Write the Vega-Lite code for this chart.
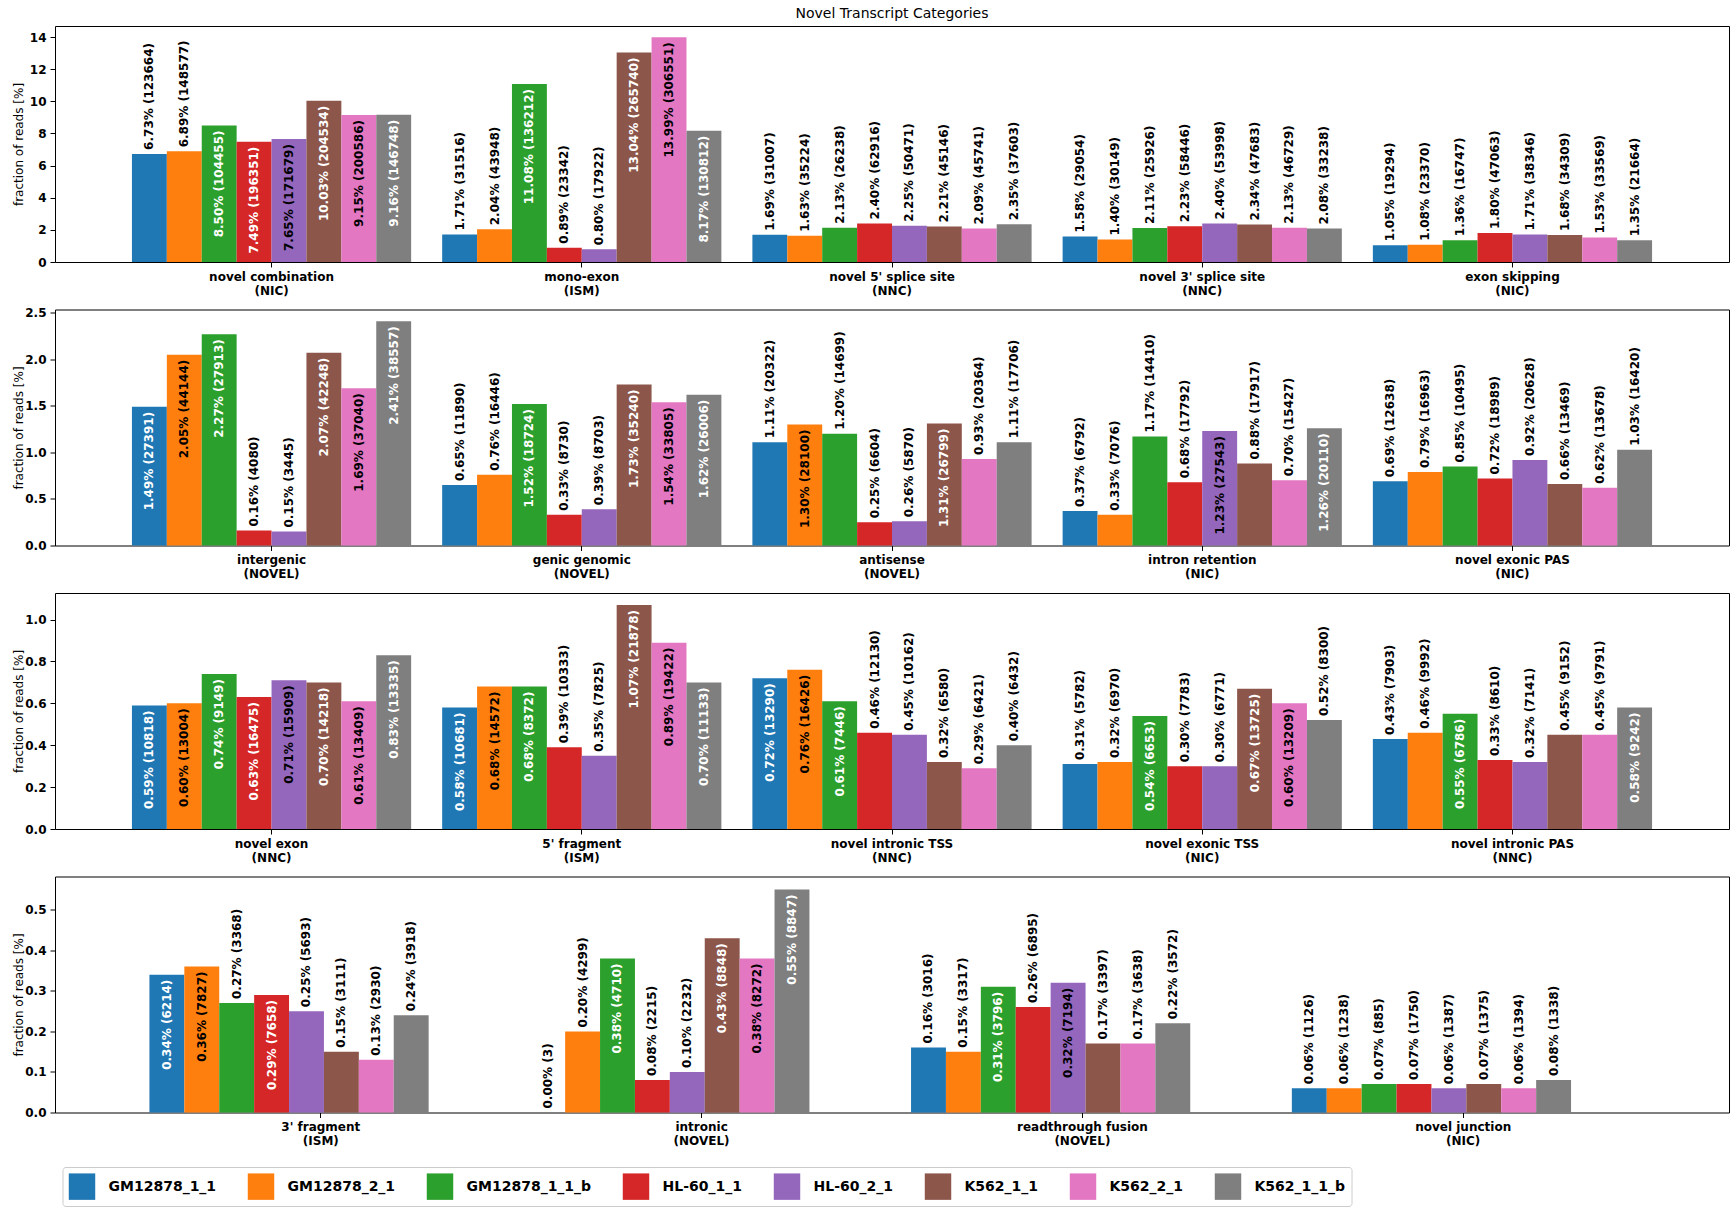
{
"$schema": "https://vega.github.io/schema/vega-lite/v6.json",
"padding": {"left": 11, "top": 6, "right": 6, "bottom": 4},
"title": {"text": "Novel Transcript Categories", "fontSize": 14, "fontWeight": "normal", "anchor": "middle", "frame": "group", "offset": 5, "color": "black"},
"data": {"values": [
{"row":1,"cat":"novel combination\n(NIC)","sample":"GM12878_1_1","pct":6.73,"reads":123664},
{"row":1,"cat":"novel combination\n(NIC)","sample":"GM12878_2_1","pct":6.89,"reads":148577},
{"row":1,"cat":"novel combination\n(NIC)","sample":"GM12878_1_1_b","pct":8.50,"reads":104455},
{"row":1,"cat":"novel combination\n(NIC)","sample":"HL-60_1_1","pct":7.49,"reads":196351},
{"row":1,"cat":"novel combination\n(NIC)","sample":"HL-60_2_1","pct":7.65,"reads":171679},
{"row":1,"cat":"novel combination\n(NIC)","sample":"K562_1_1","pct":10.03,"reads":204534},
{"row":1,"cat":"novel combination\n(NIC)","sample":"K562_2_1","pct":9.15,"reads":200586},
{"row":1,"cat":"novel combination\n(NIC)","sample":"K562_1_1_b","pct":9.16,"reads":146748},
{"row":1,"cat":"mono-exon\n(ISM)","sample":"GM12878_1_1","pct":1.71,"reads":31516},
{"row":1,"cat":"mono-exon\n(ISM)","sample":"GM12878_2_1","pct":2.04,"reads":43948},
{"row":1,"cat":"mono-exon\n(ISM)","sample":"GM12878_1_1_b","pct":11.08,"reads":136212},
{"row":1,"cat":"mono-exon\n(ISM)","sample":"HL-60_1_1","pct":0.89,"reads":23342},
{"row":1,"cat":"mono-exon\n(ISM)","sample":"HL-60_2_1","pct":0.80,"reads":17922},
{"row":1,"cat":"mono-exon\n(ISM)","sample":"K562_1_1","pct":13.04,"reads":265740},
{"row":1,"cat":"mono-exon\n(ISM)","sample":"K562_2_1","pct":13.99,"reads":306551},
{"row":1,"cat":"mono-exon\n(ISM)","sample":"K562_1_1_b","pct":8.17,"reads":130812},
{"row":1,"cat":"novel 5' splice site\n(NNC)","sample":"GM12878_1_1","pct":1.69,"reads":31007},
{"row":1,"cat":"novel 5' splice site\n(NNC)","sample":"GM12878_2_1","pct":1.63,"reads":35224},
{"row":1,"cat":"novel 5' splice site\n(NNC)","sample":"GM12878_1_1_b","pct":2.13,"reads":26238},
{"row":1,"cat":"novel 5' splice site\n(NNC)","sample":"HL-60_1_1","pct":2.40,"reads":62916},
{"row":1,"cat":"novel 5' splice site\n(NNC)","sample":"HL-60_2_1","pct":2.25,"reads":50471},
{"row":1,"cat":"novel 5' splice site\n(NNC)","sample":"K562_1_1","pct":2.21,"reads":45146},
{"row":1,"cat":"novel 5' splice site\n(NNC)","sample":"K562_2_1","pct":2.09,"reads":45741},
{"row":1,"cat":"novel 5' splice site\n(NNC)","sample":"K562_1_1_b","pct":2.35,"reads":37603},
{"row":1,"cat":"novel 3' splice site\n(NNC)","sample":"GM12878_1_1","pct":1.58,"reads":29054},
{"row":1,"cat":"novel 3' splice site\n(NNC)","sample":"GM12878_2_1","pct":1.40,"reads":30149},
{"row":1,"cat":"novel 3' splice site\n(NNC)","sample":"GM12878_1_1_b","pct":2.11,"reads":25926},
{"row":1,"cat":"novel 3' splice site\n(NNC)","sample":"HL-60_1_1","pct":2.23,"reads":58446},
{"row":1,"cat":"novel 3' splice site\n(NNC)","sample":"HL-60_2_1","pct":2.40,"reads":53998},
{"row":1,"cat":"novel 3' splice site\n(NNC)","sample":"K562_1_1","pct":2.34,"reads":47683},
{"row":1,"cat":"novel 3' splice site\n(NNC)","sample":"K562_2_1","pct":2.13,"reads":46729},
{"row":1,"cat":"novel 3' splice site\n(NNC)","sample":"K562_1_1_b","pct":2.08,"reads":33238},
{"row":1,"cat":"exon skipping\n(NIC)","sample":"GM12878_1_1","pct":1.05,"reads":19294},
{"row":1,"cat":"exon skipping\n(NIC)","sample":"GM12878_2_1","pct":1.08,"reads":23370},
{"row":1,"cat":"exon skipping\n(NIC)","sample":"GM12878_1_1_b","pct":1.36,"reads":16747},
{"row":1,"cat":"exon skipping\n(NIC)","sample":"HL-60_1_1","pct":1.80,"reads":47063},
{"row":1,"cat":"exon skipping\n(NIC)","sample":"HL-60_2_1","pct":1.71,"reads":38346},
{"row":1,"cat":"exon skipping\n(NIC)","sample":"K562_1_1","pct":1.68,"reads":34309},
{"row":1,"cat":"exon skipping\n(NIC)","sample":"K562_2_1","pct":1.53,"reads":33569},
{"row":1,"cat":"exon skipping\n(NIC)","sample":"K562_1_1_b","pct":1.35,"reads":21664},
{"row":2,"cat":"intergenic\n(NOVEL)","sample":"GM12878_1_1","pct":1.49,"reads":27391},
{"row":2,"cat":"intergenic\n(NOVEL)","sample":"GM12878_2_1","pct":2.05,"reads":44144},
{"row":2,"cat":"intergenic\n(NOVEL)","sample":"GM12878_1_1_b","pct":2.27,"reads":27913},
{"row":2,"cat":"intergenic\n(NOVEL)","sample":"HL-60_1_1","pct":0.16,"reads":4080},
{"row":2,"cat":"intergenic\n(NOVEL)","sample":"HL-60_2_1","pct":0.15,"reads":3445},
{"row":2,"cat":"intergenic\n(NOVEL)","sample":"K562_1_1","pct":2.07,"reads":42248},
{"row":2,"cat":"intergenic\n(NOVEL)","sample":"K562_2_1","pct":1.69,"reads":37040},
{"row":2,"cat":"intergenic\n(NOVEL)","sample":"K562_1_1_b","pct":2.41,"reads":38557},
{"row":2,"cat":"genic genomic\n(NOVEL)","sample":"GM12878_1_1","pct":0.65,"reads":11890},
{"row":2,"cat":"genic genomic\n(NOVEL)","sample":"GM12878_2_1","pct":0.76,"reads":16446},
{"row":2,"cat":"genic genomic\n(NOVEL)","sample":"GM12878_1_1_b","pct":1.52,"reads":18724},
{"row":2,"cat":"genic genomic\n(NOVEL)","sample":"HL-60_1_1","pct":0.33,"reads":8730},
{"row":2,"cat":"genic genomic\n(NOVEL)","sample":"HL-60_2_1","pct":0.39,"reads":8703},
{"row":2,"cat":"genic genomic\n(NOVEL)","sample":"K562_1_1","pct":1.73,"reads":35240},
{"row":2,"cat":"genic genomic\n(NOVEL)","sample":"K562_2_1","pct":1.54,"reads":33805},
{"row":2,"cat":"genic genomic\n(NOVEL)","sample":"K562_1_1_b","pct":1.62,"reads":26006},
{"row":2,"cat":"antisense\n(NOVEL)","sample":"GM12878_1_1","pct":1.11,"reads":20322},
{"row":2,"cat":"antisense\n(NOVEL)","sample":"GM12878_2_1","pct":1.30,"reads":28100},
{"row":2,"cat":"antisense\n(NOVEL)","sample":"GM12878_1_1_b","pct":1.20,"reads":14699},
{"row":2,"cat":"antisense\n(NOVEL)","sample":"HL-60_1_1","pct":0.25,"reads":6604},
{"row":2,"cat":"antisense\n(NOVEL)","sample":"HL-60_2_1","pct":0.26,"reads":5870},
{"row":2,"cat":"antisense\n(NOVEL)","sample":"K562_1_1","pct":1.31,"reads":26799},
{"row":2,"cat":"antisense\n(NOVEL)","sample":"K562_2_1","pct":0.93,"reads":20364},
{"row":2,"cat":"antisense\n(NOVEL)","sample":"K562_1_1_b","pct":1.11,"reads":17706},
{"row":2,"cat":"intron retention\n(NIC)","sample":"GM12878_1_1","pct":0.37,"reads":6792},
{"row":2,"cat":"intron retention\n(NIC)","sample":"GM12878_2_1","pct":0.33,"reads":7076},
{"row":2,"cat":"intron retention\n(NIC)","sample":"GM12878_1_1_b","pct":1.17,"reads":14410},
{"row":2,"cat":"intron retention\n(NIC)","sample":"HL-60_1_1","pct":0.68,"reads":17792},
{"row":2,"cat":"intron retention\n(NIC)","sample":"HL-60_2_1","pct":1.23,"reads":27543},
{"row":2,"cat":"intron retention\n(NIC)","sample":"K562_1_1","pct":0.88,"reads":17917},
{"row":2,"cat":"intron retention\n(NIC)","sample":"K562_2_1","pct":0.70,"reads":15427},
{"row":2,"cat":"intron retention\n(NIC)","sample":"K562_1_1_b","pct":1.26,"reads":20110},
{"row":2,"cat":"novel exonic PAS\n(NIC)","sample":"GM12878_1_1","pct":0.69,"reads":12638},
{"row":2,"cat":"novel exonic PAS\n(NIC)","sample":"GM12878_2_1","pct":0.79,"reads":16963},
{"row":2,"cat":"novel exonic PAS\n(NIC)","sample":"GM12878_1_1_b","pct":0.85,"reads":10495},
{"row":2,"cat":"novel exonic PAS\n(NIC)","sample":"HL-60_1_1","pct":0.72,"reads":18989},
{"row":2,"cat":"novel exonic PAS\n(NIC)","sample":"HL-60_2_1","pct":0.92,"reads":20628},
{"row":2,"cat":"novel exonic PAS\n(NIC)","sample":"K562_1_1","pct":0.66,"reads":13469},
{"row":2,"cat":"novel exonic PAS\n(NIC)","sample":"K562_2_1","pct":0.62,"reads":13678},
{"row":2,"cat":"novel exonic PAS\n(NIC)","sample":"K562_1_1_b","pct":1.03,"reads":16420},
{"row":3,"cat":"novel exon\n(NNC)","sample":"GM12878_1_1","pct":0.59,"reads":10818},
{"row":3,"cat":"novel exon\n(NNC)","sample":"GM12878_2_1","pct":0.60,"reads":13004},
{"row":3,"cat":"novel exon\n(NNC)","sample":"GM12878_1_1_b","pct":0.74,"reads":9149},
{"row":3,"cat":"novel exon\n(NNC)","sample":"HL-60_1_1","pct":0.63,"reads":16475},
{"row":3,"cat":"novel exon\n(NNC)","sample":"HL-60_2_1","pct":0.71,"reads":15909},
{"row":3,"cat":"novel exon\n(NNC)","sample":"K562_1_1","pct":0.70,"reads":14218},
{"row":3,"cat":"novel exon\n(NNC)","sample":"K562_2_1","pct":0.61,"reads":13409},
{"row":3,"cat":"novel exon\n(NNC)","sample":"K562_1_1_b","pct":0.83,"reads":13335},
{"row":3,"cat":"5' fragment\n(ISM)","sample":"GM12878_1_1","pct":0.58,"reads":10681},
{"row":3,"cat":"5' fragment\n(ISM)","sample":"GM12878_2_1","pct":0.68,"reads":14572},
{"row":3,"cat":"5' fragment\n(ISM)","sample":"GM12878_1_1_b","pct":0.68,"reads":8372},
{"row":3,"cat":"5' fragment\n(ISM)","sample":"HL-60_1_1","pct":0.39,"reads":10333},
{"row":3,"cat":"5' fragment\n(ISM)","sample":"HL-60_2_1","pct":0.35,"reads":7825},
{"row":3,"cat":"5' fragment\n(ISM)","sample":"K562_1_1","pct":1.07,"reads":21878},
{"row":3,"cat":"5' fragment\n(ISM)","sample":"K562_2_1","pct":0.89,"reads":19422},
{"row":3,"cat":"5' fragment\n(ISM)","sample":"K562_1_1_b","pct":0.70,"reads":11133},
{"row":3,"cat":"novel intronic TSS\n(NNC)","sample":"GM12878_1_1","pct":0.72,"reads":13290},
{"row":3,"cat":"novel intronic TSS\n(NNC)","sample":"GM12878_2_1","pct":0.76,"reads":16426},
{"row":3,"cat":"novel intronic TSS\n(NNC)","sample":"GM12878_1_1_b","pct":0.61,"reads":7446},
{"row":3,"cat":"novel intronic TSS\n(NNC)","sample":"HL-60_1_1","pct":0.46,"reads":12130},
{"row":3,"cat":"novel intronic TSS\n(NNC)","sample":"HL-60_2_1","pct":0.45,"reads":10162},
{"row":3,"cat":"novel intronic TSS\n(NNC)","sample":"K562_1_1","pct":0.32,"reads":6580},
{"row":3,"cat":"novel intronic TSS\n(NNC)","sample":"K562_2_1","pct":0.29,"reads":6421},
{"row":3,"cat":"novel intronic TSS\n(NNC)","sample":"K562_1_1_b","pct":0.40,"reads":6432},
{"row":3,"cat":"novel exonic TSS\n(NIC)","sample":"GM12878_1_1","pct":0.31,"reads":5782},
{"row":3,"cat":"novel exonic TSS\n(NIC)","sample":"GM12878_2_1","pct":0.32,"reads":6970},
{"row":3,"cat":"novel exonic TSS\n(NIC)","sample":"GM12878_1_1_b","pct":0.54,"reads":6653},
{"row":3,"cat":"novel exonic TSS\n(NIC)","sample":"HL-60_1_1","pct":0.30,"reads":7783},
{"row":3,"cat":"novel exonic TSS\n(NIC)","sample":"HL-60_2_1","pct":0.30,"reads":6771},
{"row":3,"cat":"novel exonic TSS\n(NIC)","sample":"K562_1_1","pct":0.67,"reads":13725},
{"row":3,"cat":"novel exonic TSS\n(NIC)","sample":"K562_2_1","pct":0.60,"reads":13209},
{"row":3,"cat":"novel exonic TSS\n(NIC)","sample":"K562_1_1_b","pct":0.52,"reads":8300},
{"row":3,"cat":"novel intronic PAS\n(NNC)","sample":"GM12878_1_1","pct":0.43,"reads":7903},
{"row":3,"cat":"novel intronic PAS\n(NNC)","sample":"GM12878_2_1","pct":0.46,"reads":9992},
{"row":3,"cat":"novel intronic PAS\n(NNC)","sample":"GM12878_1_1_b","pct":0.55,"reads":6786},
{"row":3,"cat":"novel intronic PAS\n(NNC)","sample":"HL-60_1_1","pct":0.33,"reads":8610},
{"row":3,"cat":"novel intronic PAS\n(NNC)","sample":"HL-60_2_1","pct":0.32,"reads":7141},
{"row":3,"cat":"novel intronic PAS\n(NNC)","sample":"K562_1_1","pct":0.45,"reads":9152},
{"row":3,"cat":"novel intronic PAS\n(NNC)","sample":"K562_2_1","pct":0.45,"reads":9791},
{"row":3,"cat":"novel intronic PAS\n(NNC)","sample":"K562_1_1_b","pct":0.58,"reads":9242},
{"row":4,"cat":"3' fragment\n(ISM)","sample":"GM12878_1_1","pct":0.34,"reads":6214},
{"row":4,"cat":"3' fragment\n(ISM)","sample":"GM12878_2_1","pct":0.36,"reads":7827},
{"row":4,"cat":"3' fragment\n(ISM)","sample":"GM12878_1_1_b","pct":0.27,"reads":3368},
{"row":4,"cat":"3' fragment\n(ISM)","sample":"HL-60_1_1","pct":0.29,"reads":7658},
{"row":4,"cat":"3' fragment\n(ISM)","sample":"HL-60_2_1","pct":0.25,"reads":5693},
{"row":4,"cat":"3' fragment\n(ISM)","sample":"K562_1_1","pct":0.15,"reads":3111},
{"row":4,"cat":"3' fragment\n(ISM)","sample":"K562_2_1","pct":0.13,"reads":2930},
{"row":4,"cat":"3' fragment\n(ISM)","sample":"K562_1_1_b","pct":0.24,"reads":3918},
{"row":4,"cat":"intronic\n(NOVEL)","sample":"GM12878_1_1","pct":0.00,"reads":3},
{"row":4,"cat":"intronic\n(NOVEL)","sample":"GM12878_2_1","pct":0.20,"reads":4299},
{"row":4,"cat":"intronic\n(NOVEL)","sample":"GM12878_1_1_b","pct":0.38,"reads":4710},
{"row":4,"cat":"intronic\n(NOVEL)","sample":"HL-60_1_1","pct":0.08,"reads":2215},
{"row":4,"cat":"intronic\n(NOVEL)","sample":"HL-60_2_1","pct":0.10,"reads":2232},
{"row":4,"cat":"intronic\n(NOVEL)","sample":"K562_1_1","pct":0.43,"reads":8848},
{"row":4,"cat":"intronic\n(NOVEL)","sample":"K562_2_1","pct":0.38,"reads":8272},
{"row":4,"cat":"intronic\n(NOVEL)","sample":"K562_1_1_b","pct":0.55,"reads":8847},
{"row":4,"cat":"readthrough fusion\n(NOVEL)","sample":"GM12878_1_1","pct":0.16,"reads":3016},
{"row":4,"cat":"readthrough fusion\n(NOVEL)","sample":"GM12878_2_1","pct":0.15,"reads":3317},
{"row":4,"cat":"readthrough fusion\n(NOVEL)","sample":"GM12878_1_1_b","pct":0.31,"reads":3796},
{"row":4,"cat":"readthrough fusion\n(NOVEL)","sample":"HL-60_1_1","pct":0.26,"reads":6895},
{"row":4,"cat":"readthrough fusion\n(NOVEL)","sample":"HL-60_2_1","pct":0.32,"reads":7194},
{"row":4,"cat":"readthrough fusion\n(NOVEL)","sample":"K562_1_1","pct":0.17,"reads":3397},
{"row":4,"cat":"readthrough fusion\n(NOVEL)","sample":"K562_2_1","pct":0.17,"reads":3638},
{"row":4,"cat":"readthrough fusion\n(NOVEL)","sample":"K562_1_1_b","pct":0.22,"reads":3572},
{"row":4,"cat":"novel junction\n(NIC)","sample":"GM12878_1_1","pct":0.06,"reads":1126},
{"row":4,"cat":"novel junction\n(NIC)","sample":"GM12878_2_1","pct":0.06,"reads":1238},
{"row":4,"cat":"novel junction\n(NIC)","sample":"GM12878_1_1_b","pct":0.07,"reads":885},
{"row":4,"cat":"novel junction\n(NIC)","sample":"HL-60_1_1","pct":0.07,"reads":1750},
{"row":4,"cat":"novel junction\n(NIC)","sample":"HL-60_2_1","pct":0.06,"reads":1387},
{"row":4,"cat":"novel junction\n(NIC)","sample":"K562_1_1","pct":0.07,"reads":1375},
{"row":4,"cat":"novel junction\n(NIC)","sample":"K562_2_1","pct":0.06,"reads":1394},
{"row":4,"cat":"novel junction\n(NIC)","sample":"K562_1_1_b","pct":0.08,"reads":1338}
]},
"transform": [
  {"joinaggregate": [{"op": "max", "field": "pct", "as": "rowmax"}], "groupby": ["row"]},
  {"calculate": "format(datum.pct, '.2f') + '% (' + datum.reads + ')'", "as": "label"}
],
"spacing": 47.5,
"bounds": "flush",
"vconcat": [
 {
  "width": 1674, "height": 236,
  "transform": [{"filter": "datum.row == 1"}],
  "encoding": {
    "x": {"field": "cat", "type": "nominal", "title": null, "sort": ["novel combination\n(NIC)","mono-exon\n(ISM)","novel 5' splice site\n(NNC)","novel 3' splice site\n(NNC)","exon skipping\n(NIC)"], "scale": {"paddingInner": 0.1, "paddingOuter": 0.248}, "axis": {"labelAngle": 0, "labelExpr": "split(datum.label, '\\n')", "labelLineHeight": 14}},
    "xOffset": {"field": "sample", "type": "nominal", "sort": ["GM12878_1_1","GM12878_2_1","GM12878_1_1_b","HL-60_1_1","HL-60_2_1","K562_1_1","K562_2_1","K562_1_1_b"], "scale": {"paddingInner": 0, "paddingOuter": 0}},
    "y": {"field": "pct", "type": "quantitative", "scale": {"domain": [0, 14.69], "nice": false}, "axis": {"values": [0,2,4,6,8,10,12,14], "format": "d", "title": "fraction of reads [%]"}}
  },
  "layer": [
    {"mark": {"type": "bar"}, "encoding": {"color": {"field": "sample", "type": "nominal", "scale": {"domain": ["GM12878_1_1","GM12878_2_1","GM12878_1_1_b","HL-60_1_1","HL-60_2_1","K562_1_1","K562_2_1","K562_1_1_b"], "range": ["#1f77b4","#ff7f0e","#2ca02c","#d62728","#9467bd","#8c564b","#e377c2","#7f7f7f"]}, "legend": {"title": null, "orient": "none", "direction": "horizontal", "legendX": 7.5, "legendY": 1141}}}},
    {"transform": [{"filter": "datum.pct <= 0.5 * datum.rowmax"}], "mark": {"type": "text", "angle": 270, "align": "left", "baseline": "middle", "dx": 4, "fontSize": 12, "fontWeight": "bold", "color": "black"}, "encoding": {"text": {"field": "label", "type": "nominal"}}},
    {"transform": [{"filter": "datum.pct > 0.5 * datum.rowmax"}], "mark": {"type": "text", "angle": 270, "align": "right", "baseline": "middle", "dx": -5, "fontSize": 12, "fontWeight": "bold"}, "encoding": {"text": {"field": "label", "type": "nominal"}, "fill": {"field": "sample", "type": "nominal", "scale": {"domain": ["GM12878_1_1","GM12878_2_1","GM12878_1_1_b","HL-60_1_1","HL-60_2_1","K562_1_1","K562_2_1","K562_1_1_b"], "range": ["white","black","white","white","black","white","black","white"]}, "legend": null}}}
  ]
 },
 {
  "width": 1674, "height": 236,
  "transform": [{"filter": "datum.row == 2"}],
  "encoding": {
    "x": {"field": "cat", "type": "nominal", "title": null, "sort": ["intergenic\n(NOVEL)","genic genomic\n(NOVEL)","antisense\n(NOVEL)","intron retention\n(NIC)","novel exonic PAS\n(NIC)"], "scale": {"paddingInner": 0.1, "paddingOuter": 0.248}, "axis": {"labelAngle": 0, "labelExpr": "split(datum.label, '\\n')", "labelLineHeight": 14}},
    "xOffset": {"field": "sample", "type": "nominal", "sort": ["GM12878_1_1","GM12878_2_1","GM12878_1_1_b","HL-60_1_1","HL-60_2_1","K562_1_1","K562_2_1","K562_1_1_b"], "scale": {"paddingInner": 0, "paddingOuter": 0}},
    "y": {"field": "pct", "type": "quantitative", "scale": {"domain": [0, 2.536], "nice": false}, "axis": {"values": [0,0.5,1,1.5,2,2.5], "format": ".1f", "title": "fraction of reads [%]"}}
  },
  "layer": [
    {"mark": {"type": "bar"}, "encoding": {"color": {"field": "sample", "type": "nominal", "scale": {"domain": ["GM12878_1_1","GM12878_2_1","GM12878_1_1_b","HL-60_1_1","HL-60_2_1","K562_1_1","K562_2_1","K562_1_1_b"], "range": ["#1f77b4","#ff7f0e","#2ca02c","#d62728","#9467bd","#8c564b","#e377c2","#7f7f7f"]}, "legend": {"title": null, "orient": "none", "direction": "horizontal", "legendX": 7.5, "legendY": 1141}}}},
    {"transform": [{"filter": "datum.pct <= 0.5 * datum.rowmax"}], "mark": {"type": "text", "angle": 270, "align": "left", "baseline": "middle", "dx": 4, "fontSize": 12, "fontWeight": "bold", "color": "black"}, "encoding": {"text": {"field": "label", "type": "nominal"}}},
    {"transform": [{"filter": "datum.pct > 0.5 * datum.rowmax"}], "mark": {"type": "text", "angle": 270, "align": "right", "baseline": "middle", "dx": -5, "fontSize": 12, "fontWeight": "bold"}, "encoding": {"text": {"field": "label", "type": "nominal"}, "fill": {"field": "sample", "type": "nominal", "scale": {"domain": ["GM12878_1_1","GM12878_2_1","GM12878_1_1_b","HL-60_1_1","HL-60_2_1","K562_1_1","K562_2_1","K562_1_1_b"], "range": ["white","black","white","white","black","white","black","white"]}, "legend": null}}}
  ]
 },
 {
  "width": 1674, "height": 236,
  "transform": [{"filter": "datum.row == 3"}],
  "encoding": {
    "x": {"field": "cat", "type": "nominal", "title": null, "sort": ["novel exon\n(NNC)","5' fragment\n(ISM)","novel intronic TSS\n(NNC)","novel exonic TSS\n(NIC)","novel intronic PAS\n(NNC)"], "scale": {"paddingInner": 0.1, "paddingOuter": 0.248}, "axis": {"labelAngle": 0, "labelExpr": "split(datum.label, '\\n')", "labelLineHeight": 14}},
    "xOffset": {"field": "sample", "type": "nominal", "sort": ["GM12878_1_1","GM12878_2_1","GM12878_1_1_b","HL-60_1_1","HL-60_2_1","K562_1_1","K562_2_1","K562_1_1_b"], "scale": {"paddingInner": 0, "paddingOuter": 0}},
    "y": {"field": "pct", "type": "quantitative", "scale": {"domain": [0, 1.127], "nice": false}, "axis": {"values": [0,0.2,0.4,0.6,0.8,1.0], "format": ".1f", "title": "fraction of reads [%]"}}
  },
  "layer": [
    {"mark": {"type": "bar"}, "encoding": {"color": {"field": "sample", "type": "nominal", "scale": {"domain": ["GM12878_1_1","GM12878_2_1","GM12878_1_1_b","HL-60_1_1","HL-60_2_1","K562_1_1","K562_2_1","K562_1_1_b"], "range": ["#1f77b4","#ff7f0e","#2ca02c","#d62728","#9467bd","#8c564b","#e377c2","#7f7f7f"]}, "legend": {"title": null, "orient": "none", "direction": "horizontal", "legendX": 7.5, "legendY": 1141}}}},
    {"transform": [{"filter": "datum.pct <= 0.5 * datum.rowmax"}], "mark": {"type": "text", "angle": 270, "align": "left", "baseline": "middle", "dx": 4, "fontSize": 12, "fontWeight": "bold", "color": "black"}, "encoding": {"text": {"field": "label", "type": "nominal"}}},
    {"transform": [{"filter": "datum.pct > 0.5 * datum.rowmax"}], "mark": {"type": "text", "angle": 270, "align": "right", "baseline": "middle", "dx": -5, "fontSize": 12, "fontWeight": "bold"}, "encoding": {"text": {"field": "label", "type": "nominal"}, "fill": {"field": "sample", "type": "nominal", "scale": {"domain": ["GM12878_1_1","GM12878_2_1","GM12878_1_1_b","HL-60_1_1","HL-60_2_1","K562_1_1","K562_2_1","K562_1_1_b"], "range": ["white","black","white","white","black","white","black","white"]}, "legend": null}}}
  ]
 },
 {
  "width": 1674, "height": 236,
  "transform": [{"filter": "datum.row == 4"}],
  "encoding": {
    "x": {"field": "cat", "type": "nominal", "title": null, "sort": ["3' fragment\n(ISM)","intronic\n(NOVEL)","readthrough fusion\n(NOVEL)","novel junction\n(NIC)"], "scale": {"paddingInner": 0.1, "paddingOuter": 0.248}, "axis": {"labelAngle": 0, "labelExpr": "split(datum.label, '\\n')", "labelLineHeight": 14}},
    "xOffset": {"field": "sample", "type": "nominal", "sort": ["GM12878_1_1","GM12878_2_1","GM12878_1_1_b","HL-60_1_1","HL-60_2_1","K562_1_1","K562_2_1","K562_1_1_b"], "scale": {"paddingInner": 0, "paddingOuter": 0}},
    "y": {"field": "pct", "type": "quantitative", "scale": {"domain": [0, 0.582], "nice": false}, "axis": {"values": [0,0.1,0.2,0.3,0.4,0.5], "format": ".1f", "title": "fraction of reads [%]"}}
  },
  "layer": [
    {"mark": {"type": "bar"}, "encoding": {"color": {"field": "sample", "type": "nominal", "scale": {"domain": ["GM12878_1_1","GM12878_2_1","GM12878_1_1_b","HL-60_1_1","HL-60_2_1","K562_1_1","K562_2_1","K562_1_1_b"], "range": ["#1f77b4","#ff7f0e","#2ca02c","#d62728","#9467bd","#8c564b","#e377c2","#7f7f7f"]}, "legend": {"title": null, "orient": "none", "direction": "horizontal", "legendX": 7.5, "legendY": 1141}}}},
    {"transform": [{"filter": "datum.pct <= 0.5 * datum.rowmax"}], "mark": {"type": "text", "angle": 270, "align": "left", "baseline": "middle", "dx": 4, "fontSize": 12, "fontWeight": "bold", "color": "black"}, "encoding": {"text": {"field": "label", "type": "nominal"}}},
    {"transform": [{"filter": "datum.pct > 0.5 * datum.rowmax"}], "mark": {"type": "text", "angle": 270, "align": "right", "baseline": "middle", "dx": -5, "fontSize": 12, "fontWeight": "bold"}, "encoding": {"text": {"field": "label", "type": "nominal"}, "fill": {"field": "sample", "type": "nominal", "scale": {"domain": ["GM12878_1_1","GM12878_2_1","GM12878_1_1_b","HL-60_1_1","HL-60_2_1","K562_1_1","K562_2_1","K562_1_1_b"], "range": ["white","black","white","white","black","white","black","white"]}, "legend": null}}}
  ]
 }
],
"config": {
  "font": "DejaVu Sans",
  "view": {"stroke": "black", "strokeWidth": 1},
  "axis": {"labelFontWeight": "bold", "labelFontSize": 12, "labelColor": "black", "tickColor": "black", "tickSize": 5, "labelPadding": 4, "domain": false, "grid": false, "titleFontWeight": "normal", "titleFontSize": 12, "titleColor": "black"},
  "axisY": {"minExtent": 28, "maxExtent": 28, "titlePadding": 2},
  "legend": {"symbolType": "square", "symbolSize": 700, "symbolStrokeWidth": 0, "symbolOpacity": 1, "labelFontSize": 14, "labelFontWeight": "bold", "labelColor": "black", "labelOffset": 13, "columnPadding": 31, "padding": 6, "strokeColor": "#cccccc", "cornerRadius": 3, "fillColor": "white"}
}
}
